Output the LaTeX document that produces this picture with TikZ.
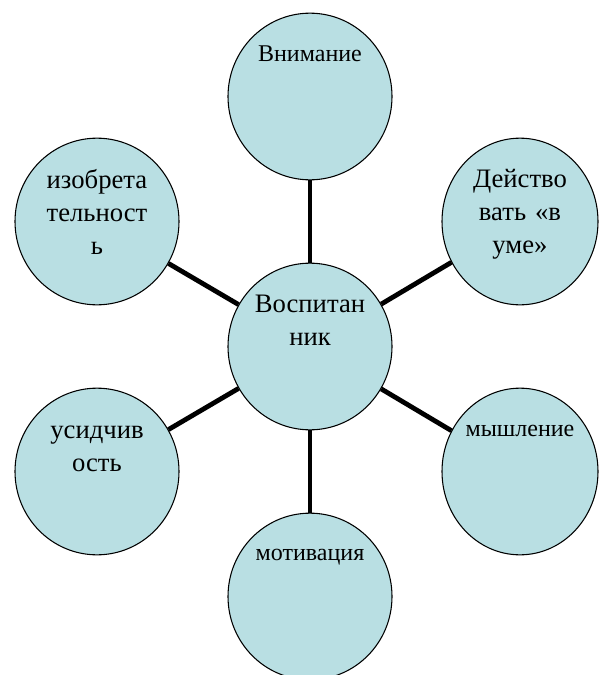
\documentclass[tikz,border=0pt]{standalone}
\usepackage{fontspec}
\setmainfont{Liberation Serif}
\usepackage{xcolor}
\usetikzlibrary{shapes,positioning}
\definecolor{bubblecolor}{RGB}{185,223,227}

\begin{document}
\begin{tikzpicture}[
    x=0.75pt, y=-0.75pt,
    bubble/.style={ellipse, draw, line width=0.8pt, fill=bubblecolor, minimum width=123pt, minimum height=125pt, inner sep=0pt},
    bigtext/.style={anchor=base, text width=120pt, align=center, inner sep=0pt, font=\fontsize{20}{24.75}\selectfont},
    smalltext/.style={anchor=base, inner sep=0pt, font=\fontsize{18}{21}\selectfont},
    link/.style={line width=3.6pt}
]
\useasboundingbox (0,0) rectangle (599,675);

% circles
\node[bubble] (pupil) at (310,346.5) {};
\node[bubble] (attention) at (310,96.5) {};
\node[bubble, minimum width=117pt] (mind) at (520,221.5) {};
\node[bubble, minimum width=117pt] (thinking) at (520,471.5) {};
\node[bubble] (motivation) at (310,596.5) {};
\node[bubble] (diligence) at (97,471.5) {};
\node[bubble] (invention) at (97,221.5) {};

% texts at the top of each circle
\node[bigtext] (pupil-t) at ([yshift=-37.5pt]pupil.north) {Воспитан\\ник};
\node[smalltext] (attention-t) at ([yshift=-36.5pt]attention.north) {Внимание};
\node[bigtext] (mind-t) at ([yshift=-37.5pt]mind.north) {Действо\\вать «в\\уме»};
\node[smalltext] (thinking-t) at ([yshift=-36.5pt]thinking.north) {мышление};
\node[smalltext] (motivation-t) at ([yshift=-36pt]motivation.north) {мотивация};
\node[bigtext] (diligence-t) at ([yshift=-38pt]diligence.north) {усидчив\\ость};
\node[bigtext] (invention-t) at ([yshift=-38pt]invention.north) {изобрета\\тельност\\ь};

% spokes
\foreach \n in {attention,mind,thinking,motivation,diligence,invention}
    \draw[link] (pupil) -- (\n);
\end{tikzpicture}
\end{document}
